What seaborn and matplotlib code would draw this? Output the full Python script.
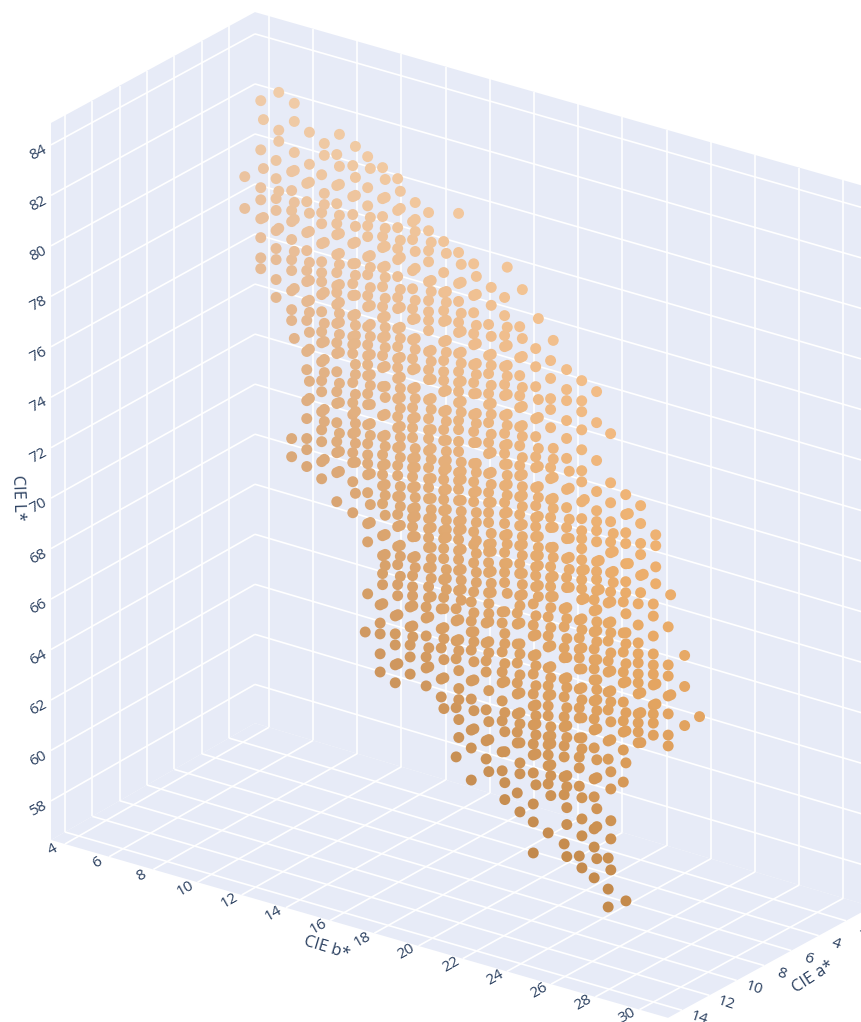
import pandas as pd
import numpy as np
import matplotlib
matplotlib.use("Agg")
import matplotlib.pyplot as plt
import seaborn as sns

sns.set_theme(style="white")
plt.rcParams['font.family'] = ['Open Sans', 'DejaVu Sans']

# Axis ranges and ticks of the 3D scene
A_RANGE = (0.1, 15.02)
B_RANGE = (3.37, 31.29)
L_RANGE = (56.45, 84.87)
a_ticks = [2, 4, 6, 8, 10, 12, 14]
b_ticks = [4, 6, 8, 10, 12, 14, 16, 18, 20, 22, 24, 26, 28, 30]
L_ticks = [58, 60, 62, 64, 66, 68, 70, 72, 74, 76, 78, 80, 82, 84]

# The samples stand in columns of nearly equal a*/b*. Depth can't be read from
# the picture so a* is one estimate per column.
col_a = [3.4, 3.62, 3.84, 4.06, 4.28, 4.5, 4.72, 4.94, 5.16, 5.38, 5.6, 5.82, 6.04, 6.26, 6.48, 6.7,
         6.92, 7.14, 7.36, 7.58, 7.8, 8.02, 8.24, 8.46, 8.68, 8.9, 9.12, 9.34, 9.56, 9.78, 10.0]
col_b = [5.01, 5.87, 6.70, 7.54, 8.36, 9.17, 9.99, 10.85, 11.66, 12.47, 13.29, 14.10, 14.96, 15.78, 16.59, 17.41,
         18.22, 19.08, 19.90, 20.76, 21.57, 22.43, 23.25, 24.06, 24.83, 25.65, 26.46, 27.28, 28.09, 28.86, 29.67]

# L* per column, four groups: upper/lower part, slightly lower/higher b*
L_upper_lo = [
    [79.54, 78.28],
    [82.84, 80.89, 79.39, 78.91, 78.16, 77.41, 76.61, 76.18],
    [80.75, 80.03, 79.24, 78.77, 77.97, 77.26, 76.82, 76.03, 75.32],
    [80.59, 79.84, 79.05, 78.61, 77.90, 77.10, 76.67, 75.87, 75.12, 74.69, 70.01, 69.29],
    [80.40, 79.68, 78.45, 77.74, 76.95, 76.51, 75.72, 74.97, 73.74, 73.02, 71.79, 71.08, 70.29, 69.85, 69.18],
    [81.02, 79.52, 79.08, 78.29, 77.57, 77.14, 76.78, 76.27, 75.59, 74.80, 74.36, 73.61, 72.86, 72.42, 71.63, 70.91, 70.44, 69.65, 68.97],
    [82.10, 80.87, 80.15, 79.36, 78.92, 78.13, 77.42, 76.90, 76.63, 76.15, 75.40, 74.64, 74.21, 73.49, 72.70, 72.23, 71.47, 70.72, 70.28, 69.49, 68.34],
    [81.95, 80.72, 80.01, 78.86, 78.06, 77.27, 76.80, 76.00, 75.17, 74.85, 74.50, 73.35, 72.55, 72.08, 71.33, 70.57, 70.18, 69.42, 68.19],
    [82.58, 81.35, 80.63, 79.84, 79.41, 78.61, 77.90, 77.07, 76.63, 75.84, 75.12, 74.69, 74.33, 73.90, 73.18, 72.75, 71.95, 71.20, 70.76, 70.41, 69.97, 69.26, 68.03, 67.31, 65.25],
    [82.42, 81.19, 80.48, 79.69, 79.25, 78.46, 77.70, 76.91, 76.47, 75.68, 74.97, 74.49, 73.74, 72.59, 71.76, 71.04, 70.61, 70.25, 69.81, 69.10, 67.83, 67.04, 66.33, 65.89],
    [82.26, 81.00, 80.32, 79.49, 79.05, 78.38, 77.55, 77.11, 76.32, 75.60, 75.13, 74.77, 74.34, 73.54, 72.83, 72.39, 71.60, 70.89, 70.49, 69.66, 68.95, 68.47, 67.68, 66.96, 66.17, 65.73],
    [80.83, 80.12, 78.89, 78.17, 77.38, 76.95, 76.15, 75.40, 74.96, 74.21, 73.46, 73.02, 72.66, 72.27, 71.44, 71.08, 70.72, 70.29, 69.45, 69.10, 68.74, 68.34, 67.51, 66.80, 66.36, 66.00],
    [81.48, 80.76, 79.97, 79.53, 78.74, 77.99, 77.55, 77.20, 76.80, 75.97, 75.25, 74.86, 74.06, 73.31, 72.87, 72.52, 72.04, 71.37, 70.93, 70.58, 70.14, 69.35, 68.95, 68.59, 68.20, 67.40, 66.65, 66.22],
    [80.61, 79.38, 78.59, 77.87, 77.44, 76.64, 75.89, 75.45, 75.10, 74.66, 73.87, 73.15, 72.72, 71.89, 71.53, 71.17, 70.74, 70.38, 69.94, 69.15, 68.83, 68.44, 68.04, 67.21, 66.50],
    [82.00, 80.45, 79.22, 78.51, 77.68, 77.28, 76.45, 75.73, 75.30, 74.94, 74.50, 73.79, 73.43, 72.96, 72.56, 71.73, 71.41, 71.06, 70.62, 69.79, 69.43, 69.07, 68.64, 68.28, 67.85, 67.05],
    [80.28, 79.02, 78.34, 77.51, 77.07, 76.28, 75.57, 75.13, 74.30, 73.63, 73.19, 72.36, 71.64, 71.21, 70.85, 69.66, 69.15, 68.43, 67.28],
    [78.15, 76.92, 76.20, 75.41, 74.98, 74.26, 73.47, 73.03, 72.24, 71.49, 71.09, 70.69, 70.30, 69.43, 69.15, 68.71, 68.32, 67.52],
    [79.51, 78.79, 78.00, 77.56, 76.77, 76.06, 75.62, 74.83, 74.12, 73.64, 73.32, 72.89, 72.05, 71.38, 70.95, 70.55, 70.07, 69.40, 68.96, 68.61, 68.21],
    [78.63, 77.40, 76.69, 75.89, 75.42, 74.66, 73.91, 73.12, 72.72, 71.89, 71.18, 70.74, 69.95, 69.23, 68.84, 67.96],
    [78.05, 77.33, 76.54, 75.27, 74.56, 73.76, 73.33, 72.54, 71.82, 71.35, 70.99, 70.59, 69.84, 69.40, 69.05, 68.61],
    [77.85, 77.14, 76.34, 75.91, 75.19, 73.61, 73.17, 72.34, 71.63, 71.23, 70.44, 69.68, 69.25, 68.89, 68.49],
    [77.78, 76.99, 76.55, 75.76, 75.05, 74.26, 73.03, 72.31, 71.52, 71.08, 70.29, 69.54, 69.14],
    [77.62, 76.82, 76.39, 75.67, 74.88, 74.05, 73.61, 72.82, 72.15, 71.67, 71.35, 70.96, 70.52, 70.09, 69.73, 69.37, 68.94],
    [77.46, 76.23, 74.73, 73.50, 72.74, 72.31, 71.95, 71.51, 70.72, 70.33, 70.01, 69.57],
    [76.06, 74.11, 73.32, 72.57, 71.77, 71.34, 70.55, 69.79],
    [73.92, 73.13, 72.41, 71.98, 71.18, 70.47, 70.03],
    [73.76, 73.05, 72.26, 71.82, 70.99, 70.31],
    [72.88, 72.45, 71.61, 70.94],
    [70.78],
    [68.64, 67.41, 65.86],
    [66.49],
]
L_upper_hi = [
    [],
    [82.12, 80.18, 78.24],
    [83.48, 81.98, 81.54, 79.56, 78.09],
    [83.33, 82.61, 81.38, 80.67, 79.40, 78.73, 77.46, 75.99, 74.01],
    [82.46, 81.19, 80.48, 79.25, 78.53, 77.30, 76.59, 75.80, 75.32, 74.53, 73.86, 72.59, 71.91],
    [82.29, 81.82, 80.31, 79.87, 78.37, 76.39, 75.16, 74.44, 73.73, 73.21, 71.75, 71.27, 69.77],
    [82.93, 81.66, 80.95, 79.72, 79.00, 78.21, 77.77, 76.98, 76.27, 75.83, 75.48, 75.00, 74.29, 73.06, 72.30, 71.08, 70.36, 69.57],
    [82.74, 81.51, 80.80, 79.57, 78.94, 78.10, 77.63, 76.84, 76.08, 75.65, 75.25, 74.93, 74.10, 73.70, 72.91, 72.24, 71.76, 71.41, 70.97, 70.22, 68.99],
    [82.14, 80.20, 78.69, 78.22, 77.42, 76.71, 75.96, 75.48, 74.77, 73.97, 73.54, 72.79, 72.03, 71.56, 70.05, 68.82, 68.11],
    [81.98, 81.27, 80.04, 79.33, 78.54, 78.10, 77.27, 76.55, 76.12, 75.76, 75.32, 74.57, 73.78, 73.34, 72.67, 71.84, 71.40, 70.69, 69.89, 69.46, 68.67, 67.91, 67.12, 66.68],
    [81.79, 81.11, 79.85, 79.17, 77.90, 77.19, 76.40, 75.96, 75.21, 74.42, 73.98, 73.62, 73.19, 72.47, 72.04, 71.68, 71.24, 70.09, 69.70, 69.30, 68.55, 67.76, 67.32, 66.53],
    [81.62, 80.95, 80.47, 79.68, 79.01, 77.74, 77.02, 76.23, 75.80, 75.04, 74.29, 73.85, 73.10, 71.87, 71.51, 71.12, 70.36, 69.93, 69.53, 69.18, 68.38, 67.59, 67.15],
    [80.33, 78.82, 78.38, 76.05, 75.61, 74.90, 74.14, 73.71, 72.91, 72.16, 71.73, 70.97, 70.18, 69.74, 69.43, 69.03, 68.24, 67.80, 67.44, 67.01, 66.29],
    [80.17, 78.66, 78.23, 77.52, 76.72, 76.25, 74.74, 73.95, 73.51, 72.76, 72.32, 71.97, 71.65, 70.82, 70.02, 69.59, 69.23, 68.91, 67.64, 67.29, 66.85],
    [80.01, 79.30, 78.07, 77.36, 76.53, 76.09, 75.38, 74.58, 74.15, 72.17, 71.81, 71.49, 70.66, 70.22, 69.87, 69.51, 68.72, 67.92, 67.49, 67.13, 66.70],
    [79.81, 79.10, 77.87, 77.15, 76.36, 75.92, 75.17, 74.38, 73.98, 73.23, 72.40, 72.04, 71.29, 70.45, 70.06, 69.34, 68.83, 68.08, 67.68],
    [79.65, 78.94, 77.71, 77.00, 76.56, 75.77, 75.05, 74.62, 73.83, 73.11, 72.32, 71.84, 71.13, 69.90, 69.50, 69.19, 68.40, 67.92, 67.56],
    [80.74, 78.36, 77.64, 76.85, 76.42, 75.70, 74.91, 74.47, 73.72, 72.93, 72.49, 72.13, 71.70, 71.02, 70.15, 69.76, 69.00, 67.81],
    [80.13, 78.19, 77.48, 76.25, 75.50, 74.74, 74.31, 73.47, 72.80, 72.32, 71.97, 71.53, 70.82, 70.34, 70.03, 69.59, 68.88, 68.44, 68.04],
    [79.27, 76.06, 75.35, 74.12, 73.41, 72.61, 72.18, 71.43, 70.63, 70.20, 69.88, 69.48, 68.69, 68.25],
    [78.68, 74.40, 73.97, 73.25, 72.42, 72.02, 71.27, 70.48, 70.08, 69.33, 68.53],
    [73.78, 73.11, 71.88, 71.12, 70.37, 69.89, 69.18],
    [72.94, 70.16, 69.02],
    [70.80, 69.65],
    [72.13, 71.42, 70.63, 70.19],
    [73.20, 71.22],
    [71.07],
    [],
    [],
    [],
    [],
]
L_lower_lo = [
    [], [], [], [], [], [], [], [],
    [63.71],
    [65.06, 64.34, 63.91, 63.12, 62.40],
    [64.90, 64.19, 63.75, 62.96, 62.25],
    [65.53, 64.74, 64.02, 63.55, 62.87],
    [65.82, 65.38, 64.67, 63.84, 63.40, 62.69],
    [66.02, 65.23, 64.47, 63.24, 62.53],
    [66.30, 65.82, 65.03, 64.32, 62.38, 60.43],
    [66.85, 66.09, 65.66, 64.94, 63.72, 63.00, 61.77, 61.06, 59.79],
    [66.29, 65.50, 64.79, 64.35, 62.85, 61.62, 60.90],
    [67.02, 66.58, 65.43, 64.64, 64.21, 63.49, 62.70, 61.47, 60.72],
    [67.25, 66.81, 66.02, 65.27, 64.48, 64.04, 63.25, 62.53, 62.10, 60.12],
    [67.90, 67.06, 66.63, 65.84, 65.12, 64.33, 63.85, 63.10, 62.35, 61.91, 61.20, 59.97, 59.26, 58.03],
    [67.66, 66.91, 66.47, 65.64, 64.93, 64.53, 64.13, 63.74, 62.91, 62.59, 62.19, 61.76, 61.04, 59.10],
    [68.27, 67.56, 66.72, 66.33, 65.49, 64.78, 63.99, 63.59, 62.84, 62.40, 61.61, 60.90, 58.95],
    [68.10, 67.39, 66.95, 66.60, 66.16, 65.37, 64.62, 64.22, 63.43, 62.67, 62.24, 61.52, 58.75],
    [69.18, 68.74, 67.91, 67.23, 66.80, 66.44, 66.00, 65.17, 64.46, 64.02, 63.31, 62.08, 61.37, 60.10, 59.38, 58.16],
    [69.32, 68.52, 67.81, 67.02, 66.58, 65.79, 65.08, 63.85, 63.13, 59.21, 57.98, 57.27],
    [69.64, 68.41, 67.65, 66.86, 66.43, 65.67, 64.92, 64.48, 63.77, 62.50],
    [69.84, 69.00, 68.29, 67.86, 67.50, 67.06, 66.71, 66.27, 65.48, 65.12, 64.76, 64.33],
    [70.11, 69.63, 68.84, 68.13, 67.69, 67.33, 66.90, 66.10, 65.75, 65.39, 64.91],
    [69.48, 67.97, 67.53, 66.74, 66.03, 65.19, 64.76],
    [],
    [],
]
L_lower_hi = [
    [], [], [], [], [], [], [], [], [],
    [65.14],
    [64.98, 63.04],
    [65.61, 64.81, 64.38],
    [65.46, 64.23, 63.48],
    [66.06, 65.31, 64.87, 64.04, 63.32, 62.10],
    [65.90, 65.11, 64.67, 63.88, 63.17, 62.73, 61.94, 61.23],
    [66.45, 65.70, 65.30, 64.51, 63.79, 62.57, 61.85],
    [67.09, 66.69, 66.37, 65.58, 65.14, 63.64, 62.41, 61.70, 60.43],
    [67.06, 66.19, 65.79, 65.00, 64.29, 63.06, 62.30, 61.51, 60.28, 59.61],
    [67.57, 66.89, 66.06, 65.66, 64.83, 64.12, 63.33, 62.89, 62.14, 61.34, 60.91, 59.40],
    [67.46, 66.71, 65.92, 65.48, 64.69, 63.93, 63.50, 63.18, 62.74, 61.99, 60.76],
    [68.06, 67.27, 66.55, 65.72, 65.28, 64.61, 63.34, 62.98, 62.67, 61.83, 61.40, 60.61],
    [68.35, 67.91, 67.12, 66.37, 65.57, 65.18, 64.38, 63.67, 63.20, 61.69, 61.25, 60.42, 59.75, 58.48],
    [68.18, 67.75, 67.03, 66.20, 65.45, 64.97, 64.26, 63.47, 63.03, 61.09, 60.25, 59.58, 58.31],
    [68.82, 68.34, 67.99, 67.55, 66.84, 66.04, 65.65, 65.25, 64.82, 64.10, 62.87, 62.16, 60.93, 60.22, 58.95],
    [69.40, 68.60, 68.17, 67.37, 66.66, 65.87, 65.43, 64.64, 63.93, 62.66, 61.98, 60.72, 60.00, 58.77],
    [69.20, 68.45, 68.01, 67.22, 66.51, 65.28, 64.56, 63.29, 57.82],
    [66.35, 65.56, 64.37],
    [66.98, 66.18],
    [66.82],
    [],
    [],
]

# Camera of the scene: orthographic apart from a very small perspective
X0, Y0 = 51, 840
A_DX, A_DY = 13.67, 7.83
B_DX, B_DY = 22.1, 6.45
L_DY = 25.23


def project(a, b, L):
    u = A_RANGE[1] - a
    v = b - B_RANGE[0]
    return X0 + A_DX * u + B_DX * v, Y0 - A_DY * u + B_DY * v - L_DY * (L - L_RANGE[0])


def project_box(a, b, L):
    # same camera with the small perspective seen on the panes
    u = A_RANGE[1] - a
    v = b - B_RANGE[0]
    h = L - L_RANGE[0]
    x = X0 + A_DX * u + B_DX * v
    y = Y0 - A_DY * u + (6.37 + 0.0134 * u) * v - (25.23 - 0.0141 * u + 0.009 * v) * h
    return x, y


def build_samples():
    rows = []
    groups = [(L_upper_lo, -0.06), (L_upper_hi, 0.06), (L_lower_lo, -0.17), (L_lower_hi, -0.05)]
    for lists, shift in groups:
        for a, b, values in zip(col_a, col_b, lists):
            for L in values:
                rows.append({"a": a, "b": b + shift, "L": L})
    return pd.DataFrame(rows)


def sample_colors(df):
    # tan on the low b* side, more orange on the high b* side, darker with falling L*
    tan = sns.blend_palette(["#BC864E", "#CE9A68", "#DCAC80", "#E8BE9A", "#F0CDAA"], as_cmap=True)
    orange = sns.blend_palette(["#C48A4C", "#DFA05C", "#ECAE6C", "#F3BC84", "#F7CB9C"], as_cmap=True)
    t = np.clip((df["L"].to_numpy() - 58) / 26, 0, 1)
    mix = np.clip((df["b"].to_numpy() - 6) / 20, 0, 1)[:, None]
    return (1 - mix) * tan(t)[:, :3] + mix * orange(t)[:, :3]


def draw_panes(ax):
    a0, a1 = A_RANGE
    b0, b1 = B_RANGE
    L0, L1 = L_RANGE
    pane = "#E7EBF7"
    panes = [
        [(a1, b0, L0), (a0, b0, L0), (a0, b0, L1), (a1, b0, L1)],
        [(a0, b0, L0), (a0, b1, L0), (a0, b1, L1), (a0, b0, L1)],
        [(a1, b0, L0), (a1, b1, L0), (a0, b1, L0), (a0, b0, L0)],
    ]
    for corners in panes:
        ax.fill(*zip(*[project_box(*c) for c in corners]), color=pane, lw=0, zorder=1)

    def seg(p, q):
        (x1, y1), (x2, y2) = project_box(*p), project_box(*q)
        ax.plot([x1, x2], [y1, y2], color="white", lw=1.2, zorder=2, solid_capstyle="butt")

    for L in L_ticks:
        seg((a1, b0, L), (a0, b0, L))
        seg((a0, b0, L), (a0, b1, L))
    for a in a_ticks:
        seg((a, b0, L0), (a, b0, L1))
        seg((a, b0, L0), (a, b1, L0))
    for b in b_ticks:
        seg((a0, b, L0), (a0, b, L1))
        seg((a0, b, L0), (a1, b, L0))


def draw_labels(ax):
    a0, a1 = A_RANGE
    b0, b1 = B_RANGE
    L0 = L_RANGE[0]
    color = "#2a3f5f"
    kw = dict(color=color, ha="center", va="center", zorder=5,
              rotation_mode="anchor", clip_on=True)
    for L in L_ticks:
        x, y = project_box(a1, b0, L)
        ax.text(x - 13, y + 8, str(L), rotation=28, fontsize=11, **kw)
    for b in b_ticks:
        x, y = project_box(a1, b, L0)
        ax.text(x - 12, y + 6, str(b), rotation=30, fontsize=11, **kw)
    for a in a_ticks:
        x, y = project_box(a, b1, L0)
        ax.text(x + 17, y + 8, str(a), rotation=-18, fontsize=11, **kw)
    ax.text(18, 498, "CIE L*", rotation=-88, fontsize=11.8, **kw)
    ax.text(327, 948, "CIE b*", rotation=-17, fontsize=11.8, **kw)
    ax.text(813, 977, "CIE a*", rotation=33, fontsize=11.8, **kw)


samples = build_samples()
samples["x"], samples["y"] = project(samples["a"], samples["b"], samples["L"])

fig = plt.figure(figsize=(8.61, 10.22), dpi=100)
ax = fig.add_axes([0, 0, 1, 1])
draw_panes(ax)

sns.scatterplot(data=samples, x="x", y="y", c=sample_colors(samples),
                s=62, linewidth=0, legend=False, ax=ax, zorder=3)

draw_labels(ax)
ax.set_xlim(0, 861)
ax.set_ylim(1022, 0)
ax.set_axis_off()
fig.savefig("out.png", dpi=100)
